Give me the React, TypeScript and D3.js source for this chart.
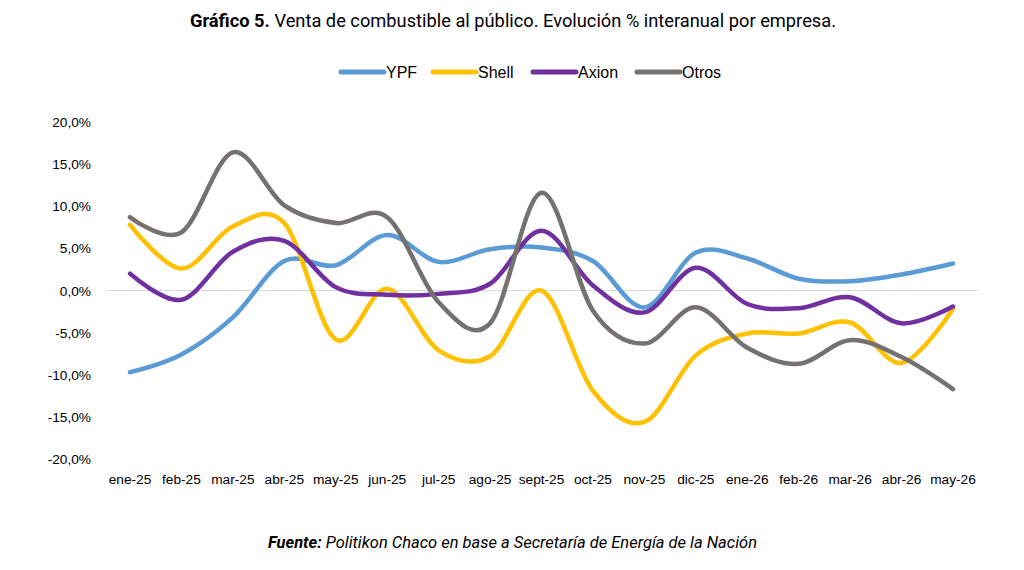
import React from "react";
import * as d3 from "d3";

const categories = ["ene-25","feb-25","mar-25","abr-25","may-25","jun-25","jul-25","ago-25","sept-25","oct-25","nov-25","dic-25","ene-26","feb-26","mar-26","abr-26","may-26"];
const ypf = [-9.7,-7.6,-3.2,3.5,3.0,6.6,3.4,4.9,5.1,3.5,-2.0,4.5,3.8,1.4,1.1,1.9,3.2];
const shell = [7.8,2.6,7.6,8.0,-5.8,0.2,-7.1,-7.8,0.0,-11.9,-15.6,-7.7,-5.1,-5.1,-3.8,-8.6,-2.2];
const axion = [2.0,-1.1,4.6,5.9,0.4,-0.5,-0.4,0.8,7.1,0.6,-2.6,2.7,-1.6,-2.1,-0.8,-3.9,-1.9];
const otros = [8.7,6.9,16.4,10.1,8.0,8.7,-1.4,-3.9,11.6,-2.4,-6.3,-2.0,-6.8,-8.7,-5.9,-7.9,-11.7];
const yTicks = [20,15,10,5,0,-5,-10,-15,-20];

const series = [
  { name: "YPF", values: ypf, color: "#5B9BD5" },
  { name: "Shell", values: shell, color: "#FFC000" },
  { name: "Axion", values: axion, color: "#7030A0" },
  { name: "Otros", values: otros, color: "#767171" },
];

const legendX = [341, 433, 533, 637];

export default function App() {
  const W = 1024, H = 570;
  const x = d3.scalePoint<string>().domain(categories).range([130, 953]);
  const y = d3.scaleLinear().domain([-20, 20]).range([459, 122]);
  const line = d3.line<number>()
    .x((_, i) => x(categories[i]) as number)
    .y((d) => y(d))
    .curve(d3.curveCatmullRom.alpha(0));
  const fmt = (v: number) => v.toFixed(1).replace(".", ",") + "%";
  const sans = "'Liberation Sans', Arial, sans-serif";

  return (
    <svg width={W} height={H} style={{ position: "absolute", left: 0, top: 0, background: "#fff" }}>
      <text x={190} y={27} textLength={646} lengthAdjust="spacingAndGlyphs" fontFamily="Roboto, sans-serif" fontSize={18} fill="#000">
        <tspan fontWeight="bold">Gráfico 5.</tspan>
        <tspan> Venta de combustible al público. Evolución % interanual por empresa.</tspan>
      </text>

      {series.map((s, i) => (
        <g key={s.name}>
          <line x1={legendX[i]} x2={legendX[i] + 43} y1={72} y2={72} stroke={s.color} strokeWidth={5} strokeLinecap="round" />
          <text x={legendX[i] + 45} y={77.5} fontFamily={sans} fontSize={16} fill="#000">{s.name}</text>
        </g>
      ))}

      {yTicks.map((t) => (
        <text key={t} x={91} y={y(t) + 5} textAnchor="end" fontFamily={sans} fontSize={13.7} fill="#000">{fmt(t)}</text>
      ))}

      <line x1={107} x2={978} y1={y(0)} y2={y(0)} stroke="#D9D9D9" strokeWidth={1} />

      {categories.map((c) => (
        <text key={c} x={x(c)} y={484} textAnchor="middle" fontFamily={sans} fontSize={13.7} fill="#000">{c}</text>
      ))}

      {series.map((s) => (
        <path key={s.name} d={line(s.values) || ""} fill="none" stroke={s.color} strokeWidth={4.5} strokeLinecap="round" strokeLinejoin="round" />
      ))}

      <text x={268} y={548} textLength={489} lengthAdjust="spacingAndGlyphs" fontFamily="Roboto, sans-serif" fontSize={16} fontStyle="italic" fill="#000">
        <tspan fontWeight="bold">Fuente:</tspan>
        <tspan> Politikon Chaco en base a Secretaría de Energía de la Nación</tspan>
      </text>
    </svg>
  );
}
